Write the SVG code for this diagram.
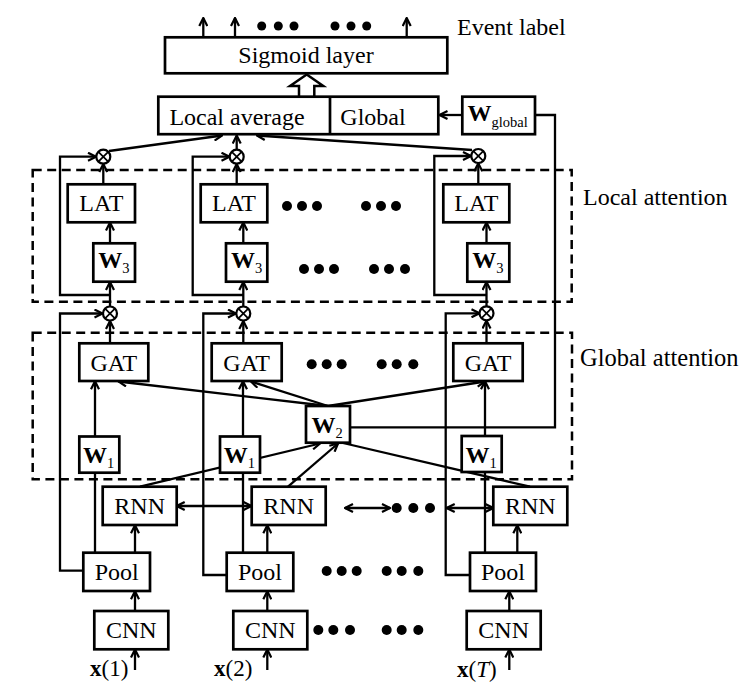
<svg xmlns="http://www.w3.org/2000/svg" width="750" height="692" viewBox="0 0 750 692">
<style>
text{font-family:"Liberation Serif","Times New Roman",serif;font-size:24px;fill:#000}
.c{text-anchor:middle}
.b{font-weight:bold}
.s{font-size:14.5px}
.box{fill:#fff;stroke:#000;stroke-width:2.7}
.ln{fill:none;stroke:#000;stroke-width:2.3}
.ar{marker-end:url(#a)}
.da{marker-start:url(#a);marker-end:url(#a)}
.dash{fill:none;stroke:#000;stroke-width:2.5;stroke-dasharray:9 5.5}
.ot circle{fill:#fff;stroke:#000;stroke-width:2.2}
.ot path{stroke:#000;stroke-width:1.7}
.dot{fill:#000}
.in{font-size:23px}
</style>
<defs>
<marker id="a" viewBox="0 0 10 10" refX="9" refY="5" markerWidth="10" markerHeight="10" markerUnits="userSpaceOnUse" orient="auto-start-reverse">
<path d="M1,1 L9,5 L1,9" fill="none" stroke="#000" stroke-width="2.2"/>
</marker>
</defs>
<rect width="750" height="692" fill="#fff"/>

<g id="regions">
<rect class="dash" x="32.7" y="170" width="539" height="131.7"/>
<rect class="dash" x="32.7" y="332.7" width="539.3" height="146.6"/>
<text x="583" y="205">Local attention</text>
<text x="580" y="366" style="font-size:24.5px">Global attention</text>
<text x="457" y="35">Event label</text>
</g>

<g id="connectors">
<path class="ln ar" d="M203.3,37 V18"/>
<path class="ln ar" d="M235,37 V18"/>
<path class="ln ar" d="M406.7,37 V18"/>
<path class="ln ar" d="M462.3,115 H439.5"/>
<path class="ln" d="M350,427.3 H555 V115 H535"/>
<path class="ln ar" d="M109,151 L222,135.5"/>
<path class="ln ar" d="M236.7,149.5 V135.5"/>
<path class="ln ar" d="M472,150 L257,135.5"/>

<path class="ln ar" d="M110,295 H60 V156.7 H96"/>
<path class="ln ar" d="M103.3,184.3 V164"/>
<path class="ln ar" d="M110,243.3 V222.5"/>
<path class="ln ar" d="M110,306.5 V282"/>
<path class="ln ar" d="M83.3,570.7 H60 V313.5 H102.5"/>
<path class="ln ar" d="M110,343.3 V321"/>
<path class="ln ar" d="M95,436.7 V381.3"/>
<path class="ln" d="M95,552.7 V472.7"/>
<path class="ln ar" d="M135,552.7 V525.3"/>
<path class="ln ar" d="M135,611 V591.3"/>
<path class="ln ar" d="M135,670 V649.5"/>

<path class="ln ar" d="M243.3,295 H192.7 V156.7 H229.5"/>
<path class="ln ar" d="M236.7,184.3 V164"/>
<path class="ln ar" d="M243.3,243.3 V222.5"/>
<path class="ln ar" d="M243.3,306.5 V282"/>
<path class="ln ar" d="M226.7,575 H203.3 V313.5 H236"/>
<path class="ln ar" d="M243.3,343.3 V321"/>
<path class="ln ar" d="M243,436.7 V381.3"/>
<path class="ln" d="M243,552.7 V472.7"/>
<path class="ln ar" d="M267.3,552.7 V525.3"/>
<path class="ln ar" d="M267.3,611 V591.3"/>
<path class="ln ar" d="M267.3,670 V649.5"/>

<path class="ln ar" d="M486.5,295 H434.3 V156 H471"/>
<path class="ln ar" d="M478.3,184.3 V163.3"/>
<path class="ln ar" d="M486.5,243.3 V222.5"/>
<path class="ln ar" d="M486.5,306 V282"/>
<path class="ln ar" d="M470,575 H445.7 V313.3 H479.5"/>
<path class="ln ar" d="M486.5,343.3 V320.5"/>
<path class="ln ar" d="M485,436 V381.3"/>
<path class="ln" d="M485,552.7 V472"/>
<path class="ln ar" d="M517.3,552.7 V525.3"/>
<path class="ln ar" d="M509.3,611 V591.3"/>
<path class="ln ar" d="M509.3,670 V649.5"/>

<path class="ln ar" d="M328,406 L118.5,381.5"/>
<path class="ln ar" d="M328,406 L251,381.5"/>
<path class="ln ar" d="M328,406 L485,381.5"/>
<path class="ln ar" d="M140,486.7 L320,443.5"/>
<path class="ln ar" d="M288,486.7 L338,443.5"/>
<path class="ln" d="M343,443 L530,486.7"/>

<path class="ln da" d="M176.7,506 H251.5"/>
<path class="ln da" d="M345,508 H390"/>
<path class="ln da" d="M446.7,508 H493.3"/>
</g>

<g id="dots">
<circle class="dot" cx="261.7" cy="26" r="4.5"/><circle class="dot" cx="278.3" cy="26" r="4.5"/><circle class="dot" cx="294" cy="26" r="4.5"/>
<circle class="dot" cx="335" cy="26" r="4.5"/><circle class="dot" cx="351" cy="26" r="4.5"/><circle class="dot" cx="366.7" cy="26" r="4.5"/>
<circle class="dot" cx="287" cy="206" r="5"/><circle class="dot" cx="302" cy="206" r="5"/><circle class="dot" cx="317" cy="206" r="5"/>
<circle class="dot" cx="366" cy="206" r="5"/><circle class="dot" cx="381" cy="206" r="5"/><circle class="dot" cx="396" cy="206" r="5"/>
<circle class="dot" cx="304" cy="269" r="5"/><circle class="dot" cx="319" cy="269" r="5"/><circle class="dot" cx="334" cy="269" r="5"/>
<circle class="dot" cx="374" cy="269" r="5"/><circle class="dot" cx="389" cy="269" r="5"/><circle class="dot" cx="405" cy="269" r="5"/>
<circle class="dot" cx="311.7" cy="364.3" r="5"/><circle class="dot" cx="326.7" cy="364.3" r="5"/><circle class="dot" cx="341.7" cy="364.3" r="5"/>
<circle class="dot" cx="381.7" cy="364.3" r="5"/><circle class="dot" cx="396.7" cy="364.3" r="5"/><circle class="dot" cx="413.3" cy="364.3" r="5"/>
<circle class="dot" cx="396.7" cy="508" r="5"/><circle class="dot" cx="413.3" cy="508" r="5"/><circle class="dot" cx="430" cy="508" r="5"/>
<circle class="dot" cx="326.7" cy="571" r="5"/><circle class="dot" cx="341.7" cy="571" r="5"/><circle class="dot" cx="356.7" cy="571" r="5"/>
<circle class="dot" cx="386.7" cy="571" r="5"/><circle class="dot" cx="401.7" cy="571" r="5"/><circle class="dot" cx="418.3" cy="571" r="5"/>
<circle class="dot" cx="318.3" cy="630" r="5"/><circle class="dot" cx="333.3" cy="630" r="5"/><circle class="dot" cx="350" cy="630" r="5"/>
<circle class="dot" cx="386.7" cy="630" r="5"/><circle class="dot" cx="401.7" cy="630" r="5"/><circle class="dot" cx="418.3" cy="630" r="5"/>
</g>

<g id="sigmoid"><rect class="box" x="165" y="37.3" width="282.3" height="36"/><text class="c" x="306" y="63">Sigmoid layer</text></g>
<g id="hollow-arrow"><path d="M299,97 V86 H290 L306.7,74.5 L323.3,86 H314.3 V97" fill="#fff" stroke="#000" stroke-width="2.5" stroke-linejoin="miter"/></g>
<g id="local-global"><rect class="box" x="158.3" y="96.7" width="280" height="37.5"/><path class="ln" d="M330,96.7 V134.2" style="stroke-width:2.7"/><text class="c" x="237" y="125">Local average</text><text class="c" x="373" y="125">Global</text></g>
<g id="wglobal"><rect class="box" x="462.3" y="96.7" width="72.7" height="37.5"/><text x="467.5" y="121"><tspan class="b">W</tspan><tspan class="s" dy="6">global</tspan></text></g>

<g id="otimes" class="ot">
<g id="ot1u"><circle cx="103.3" cy="156.7" r="7"/><path d="M98.4,151.8 L108.2,161.6 M108.2,151.8 L98.4,161.6"/></g>
<g id="ot2u"><circle cx="236.7" cy="156.7" r="7"/><path d="M231.8,151.8 L241.6,161.6 M241.6,151.8 L231.8,161.6"/></g>
<g id="ot3u"><circle cx="478.3" cy="156" r="7"/><path d="M473.4,151.1 L483.2,160.9 M483.2,151.1 L473.4,160.9"/></g>
<g id="ot1l"><circle cx="110" cy="313.5" r="7"/><path d="M105.1,308.6 L114.9,318.4 M114.9,308.6 L105.1,318.4"/></g>
<g id="ot2l"><circle cx="243.3" cy="313.5" r="7"/><path d="M238.4,308.6 L248.2,318.4 M248.2,308.6 L238.4,318.4"/></g>
<g id="ot3l"><circle cx="486.5" cy="313.3" r="7"/><path d="M481.6,308.4 L491.4,318.2 M491.4,308.4 L481.6,318.2"/></g>
</g>

<g id="lat1"><rect class="box" x="67.7" y="184.3" width="67.3" height="38"/><text class="c" x="101.3" y="211">LAT</text></g>
<g id="lat2"><rect class="box" x="200.7" y="184.3" width="66.6" height="38"/><text class="c" x="234" y="211">LAT</text></g>
<g id="lat3"><rect class="box" x="443.3" y="184.3" width="66" height="38"/><text class="c" x="476.3" y="211">LAT</text></g>

<g id="w3a"><rect class="box" x="93.3" y="243.3" width="41.7" height="38.4"/><text x="98.3" y="268.3"><tspan class="b">W</tspan><tspan class="s" dy="5">3</tspan></text></g>
<g id="w3b"><rect class="box" x="226" y="243.3" width="41.3" height="38.4"/><text x="231" y="268.3"><tspan class="b">W</tspan><tspan class="s" dy="5">3</tspan></text></g>
<g id="w3c"><rect class="box" x="467.3" y="243.3" width="42" height="38.4"/><text x="472.3" y="268.3"><tspan class="b">W</tspan><tspan class="s" dy="5">3</tspan></text></g>

<g id="gat1"><rect class="box" x="79.3" y="343.3" width="69" height="37.7"/><text class="c" x="113.8" y="370.5">GAT</text></g>
<g id="gat2"><rect class="box" x="211.7" y="343.3" width="70" height="37.7"/><text class="c" x="246.7" y="370.5">GAT</text></g>
<g id="gat3"><rect class="box" x="453.3" y="343.3" width="69.4" height="37.7"/><text class="c" x="488" y="370.5">GAT</text></g>

<g id="w2"><rect class="box" x="306" y="406" width="44" height="36.7"/><text x="311.5" y="432.7"><tspan class="b">W</tspan><tspan class="s" dy="5">2</tspan></text></g>

<g id="w1a"><rect class="box" x="79.3" y="436.5" width="40" height="36.2"/><text x="83" y="463"><tspan class="b">W</tspan><tspan class="s" dy="5">1</tspan></text></g>
<g id="w1b"><rect class="box" x="220" y="436.5" width="40" height="36.2"/><text x="223.7" y="463"><tspan class="b">W</tspan><tspan class="s" dy="5">1</tspan></text></g>
<g id="w1c"><rect class="box" x="461.7" y="436" width="40" height="36"/><text x="465.4" y="462.5"><tspan class="b">W</tspan><tspan class="s" dy="5">1</tspan></text></g>

<g id="rnn1"><rect class="box" x="102.7" y="486.7" width="74" height="38.3"/><text class="c" x="139.7" y="514">RNN</text></g>
<g id="rnn2"><rect class="box" x="251.7" y="486.7" width="74" height="38.3"/><text class="c" x="288.7" y="514">RNN</text></g>
<g id="rnn3"><rect class="box" x="493.3" y="486.7" width="74" height="38.3"/><text class="c" x="530.3" y="514">RNN</text></g>

<g id="pool1"><rect class="box" x="83.3" y="552.7" width="66.7" height="38.3"/><text class="c" x="116.7" y="580">Pool</text></g>
<g id="pool2"><rect class="box" x="226.7" y="552.7" width="66.6" height="38.3"/><text class="c" x="260" y="580">Pool</text></g>
<g id="pool3"><rect class="box" x="470" y="552.7" width="66" height="38.3"/><text class="c" x="503" y="580">Pool</text></g>

<g id="cnn1"><rect class="box" x="94.3" y="611" width="74" height="38.3"/><text class="c" x="131.3" y="638.3">CNN</text></g>
<g id="cnn2"><rect class="box" x="233.3" y="611" width="74" height="38.3"/><text class="c" x="270.3" y="638.3">CNN</text></g>
<g id="cnn3"><rect class="box" x="466.7" y="611" width="74" height="38.3"/><text class="c" x="503.7" y="638.3">CNN</text></g>

<g id="inputs">
<text class="in" x="90" y="676"><tspan class="b">x</tspan>(1)</text>
<text class="in" x="214" y="676"><tspan class="b">x</tspan>(2)</text>
<text class="in" x="457" y="677"><tspan class="b">x</tspan>(<tspan font-style="italic">T</tspan>)</text>
</g>
</svg>
